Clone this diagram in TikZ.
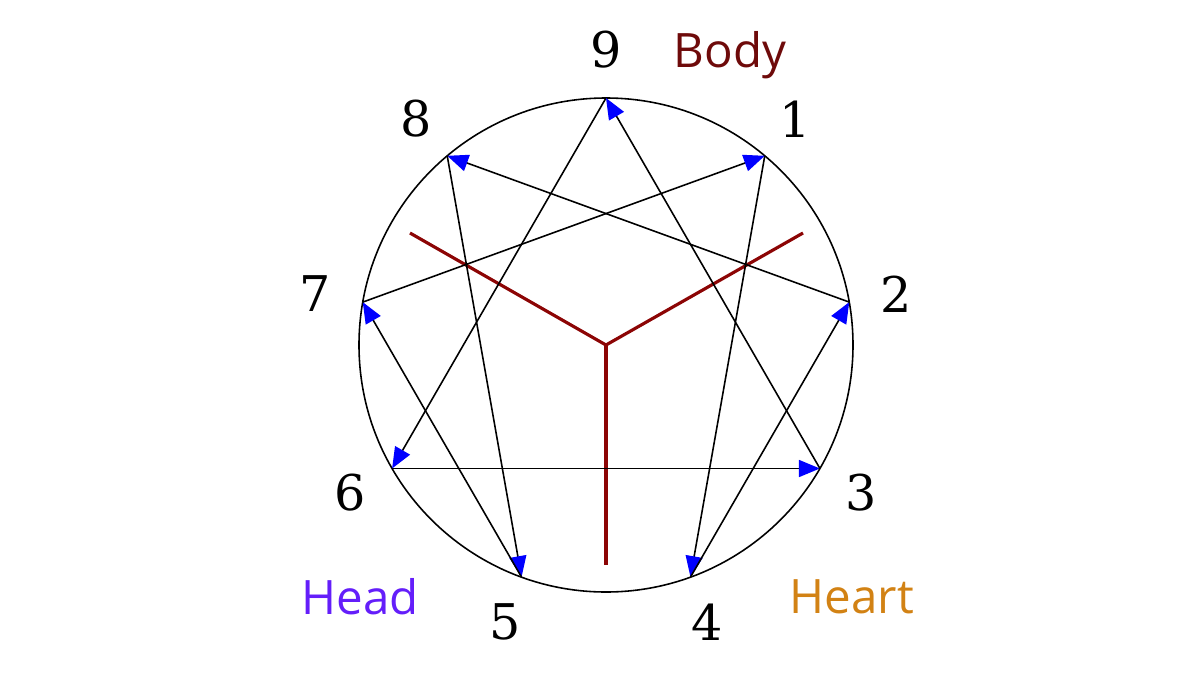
\documentclass[tikz,border=0pt]{standalone}
\usepackage{fontspec}
\setmainfont{DejaVu Serif}
\setsansfont{Open Sans}
\usetikzlibrary{arrows.meta}
\definecolor{bodyred}{RGB}{110,10,10}
\definecolor{stemred}{RGB}{140,5,5}
\definecolor{headblue}{RGB}{100,30,250}
\definecolor{heartorange}{RGB}{210,130,20}
\tikzset{
  numlabel/.style={font=\fontsize{28}{30}\selectfont},
  centrelabel/.style={font=\sffamily\fontsize{27}{30}\selectfont},
  flow/.style={line width=0.9pt,-{Triangle[color=blue,length=0.42cm,width=0.34cm]}},
  stem/.style={stemred,line width=1.8pt}
}
\begin{document}
\begin{tikzpicture}
  \useasboundingbox (-12.12,-6.6) rectangle (11.88,6.9);
  \draw[line width=0.9pt] (0,0) circle (4.94);
  % points and numbers round the circle
  \foreach \n in {1,...,9} {
    \coordinate (p\n) at ({90-40*\n}:4.94);
    \node[numlabel] (n\n) at ({90-40*\n}:5.9) {\n};
  }
  % centre stems
  \coordinate (c) at (0,0);
  \coordinate (s1) at (0,-4.4);
  \coordinate (s2) at (-3.92,2.24);
  \coordinate (s3) at (3.94,2.24);
  \draw[stem] (c) -- (s1);
  \draw[stem] (c) -- (s2);
  \draw[stem] (c) -- (s3);
  % arrows
  \draw[flow] (p1) -- (p4);
  \draw[flow] (p4) -- (p2);
  \draw[flow] (p2) -- (p8);
  \draw[flow] (p8) -- (p5);
  \draw[flow] (p5) -- (p7);
  \draw[flow] (p7) -- (p1);
  \draw[flow] (p9) -- (p6);
  \draw[flow] (p6) -- (p3);
  \draw[flow] (p3) -- (p9);
  % centres
  \node[centrelabel,text=bodyred] (body) at (2.48,5.8) {Body};
  \node[centrelabel,text=headblue] (head) at (-4.92,-5.04) {Head};
  \node[centrelabel,text=heartorange] (heart) at (4.92,-5.04) {Heart};
\end{tikzpicture}
\end{document}
